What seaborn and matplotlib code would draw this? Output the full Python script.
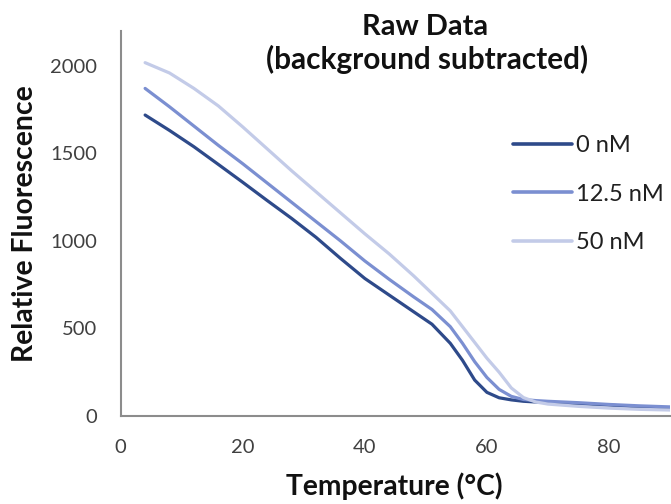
import numpy as np
import pandas as pd
import matplotlib
matplotlib.use("Agg")
import matplotlib.pyplot as plt
import seaborn as sns

temperature = [4, 8, 12, 16, 20, 24, 28, 32, 36, 40, 44, 48, 51, 54, 56, 58, 60, 62, 64, 66, 68, 70, 75, 80, 85, 90]
fl_0nM = [1718, 1630, 1537, 1436, 1334, 1230, 1128, 1020, 900, 785, 690, 595, 524, 415, 318, 205, 135, 104, 92, 84, 80, 78, 70, 62, 52, 45]
fl_12nM = [1870, 1765, 1655, 1545, 1440, 1330, 1220, 1110, 1000, 885, 780, 680, 608, 510, 415, 310, 220, 152, 112, 94, 88, 84, 76, 66, 58, 52]
fl_50nM = [2017, 1958, 1870, 1770, 1650, 1525, 1400, 1280, 1160, 1040, 925, 800, 700, 600, 510, 420, 330, 250, 160, 105, 80, 68, 55, 45, 38, 34]
series_labels = ["0 nM", "12.5 nM", "50 nM"]
x_ticks = [0, 20, 40, 60, 80]
y_ticks = [0, 500, 1000, 1500, 2000]

rows = []
for lab, vals in zip(series_labels, [fl_0nM, fl_12nM, fl_50nM]):
    for t, v in zip(temperature, vals):
        rows.append({"Temperature": t, "Fluorescence": v, "Conc": lab})
df = pd.DataFrame(rows)

sns.set_style("white")
plt.rcParams["font.family"] = ["Lato", "DejaVu Sans"]

W, H = 671, 504
fig = plt.figure(figsize=(W / 100, H / 100), dpi=100)
AX_L, AX_R, AX_B, AX_T = 120.7, 670.0, 416.0, 30.6
ax = fig.add_axes([AX_L / W, 1 - AX_B / H, (AX_R - AX_L) / W, (AX_B - AX_T) / H])

palette = {"0 nM": "#2E4A8A", "12.5 nM": "#7B8FD1", "50 nM": "#C3CBE8"}
sns.lineplot(data=df, x="Temperature", y="Fluorescence", hue="Conc",
             palette=palette, linewidth=2.3, ax=ax, legend=True)

ax.set_xlim(0, 90)
ax.set_ylim(0, 2200)
ax.set_xticks(x_ticks)
ax.set_yticks(y_ticks)
ax.tick_params(axis="both", direction="in", length=5, width=1.4, color="#8C8C8C",
               labelsize=14, labelcolor="#404040")
ax.tick_params(axis="x", pad=16.5)
ax.tick_params(axis="y", pad=17)
for s in ["top", "right"]:
    ax.spines[s].set_visible(False)
for s in ["left", "bottom"]:
    ax.spines[s].set_color("#8C8C8C")
    ax.spines[s].set_linewidth(1.5)

ax.set_xlabel("Temperature (°C)", fontsize=19, fontweight="bold", color="#111111")
ax.set_ylabel("Relative Fluorescence", fontsize=20, fontweight="bold", color="#111111")

def ax_coords(px, py):
    return (px - AX_L) / (AX_R - AX_L), (AX_B - py) / (AX_B - AX_T)

ax.xaxis.set_label_coords(*ax_coords(394.3, 495))
ax.xaxis.label.set_va("baseline")
ax.xaxis.label.set_ha("center")
ax.yaxis.set_label_coords(*ax_coords(33.3, 223.3))
ax.yaxis.label.set_va("baseline")
ax.yaxis.label.set_ha("center")
ax.yaxis.label.set_rotation_mode("anchor")

leg = ax.legend(loc="center left", bbox_to_anchor=(513 / W, 1 - 146 / H),
                bbox_transform=fig.transFigure, frameon=False,
                fontsize=17, handlelength=2.5, handletextpad=0.17, labelspacing=1.15,
                borderpad=0, borderaxespad=0)
for line in leg.get_lines():
    line.set_linewidth(2.6)
for t in leg.get_texts():
    t.set_color("#202020")

t1 = fig.text(425 / W, 1 - 35 / H, "Raw Data", ha="center", va="baseline",
              fontsize=18, fontweight="bold", color="#111111")
t2 = fig.text(427.5 / W, 1 - 69 / H, "(background subtracted)", ha="center", va="baseline",
              fontsize=18, fontweight="bold", color="#111111")

fig.canvas.draw()
r = fig.canvas.get_renderer()

def fit(t, target):
    for _ in range(3):
        bb = t.get_window_extent(r)
        size = max(bb.width, bb.height)
        t.set_fontsize(t.get_fontsize() * target / size)

fit(t1, 126.7)
fit(t2, 321.7)
fit(ax.xaxis.label, 217.0)
fit(ax.yaxis.label, 276.7)

lab2000 = ax.get_yticklabels()[-1]
w = lab2000.get_window_extent(r).width
ax.tick_params(axis="both", labelsize=14 * 47.0 / w)

fig.canvas.draw()
fs_px = leg.get_texts()[0].get_fontsize() * 100 / 72
for _ in range(3):
    fig.canvas.draw()
    ys = [t.get_window_extent(r) for t in leg.get_texts()]
    c0 = (ys[0].y0 + ys[0].y1) / 2
    c2 = (ys[2].y0 + ys[2].y1) / 2
    gap = (c0 - c2) / 2
    leg.labelspacing = leg.labelspacing + (55.5 - gap) / fs_px
fig.canvas.draw()
bb0 = leg.get_texts()[0].get_window_extent(r)
c0 = (bb0.y0 + bb0.y1) / 2
dy = (H - 146) - c0
dx = 576 - bb0.x0
leg.set_bbox_to_anchor((513 / W + dx / W, 1 - 146 / H + dy / H), transform=fig.transFigure)

fig.savefig("out.png", dpi=100)
